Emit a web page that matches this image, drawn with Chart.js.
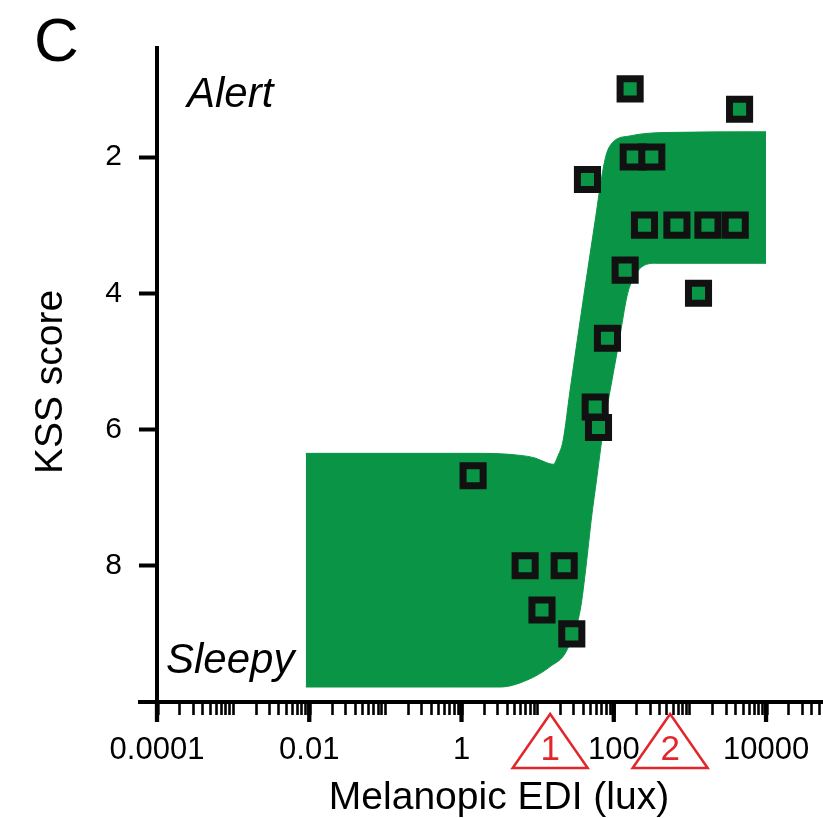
<!DOCTYPE html>
<html>
<head>
<meta charset="utf-8">
<script src="https://cdn.jsdelivr.net/npm/chart.js@4.4.1/dist/chart.umd.min.js"></script>
<style>
  html, body { margin: 0; padding: 0; background: #fff; }
  canvas { display: block; }
</style>
</head>
<body>
<canvas id="kss" width="823" height="818"></canvas>
<script>
const FONT = "'Liberation Sans', Arial, Helvetica, sans-serif";
const GREEN = '#0a9546';
const RED = '#e2262b';

// single measurements: melanopic EDI (lux) and KSS score
const pointLux = [1.42, 6.85, 22.3, 11.4, 28.1, 45.1, 164, 180, 316, 4490, 253, 675, 1725, 3940, 141, 1297, 82.6, 57, 63];
const pointKss = [6.68, 8.0, 8.0, 8.65, 9.0, 2.33, 1.0, 2.0, 2.0, 1.3, 3.0, 3.0, 3.0, 3.0, 3.66, 4.0, 4.66, 5.67, 5.97];

// fitted band: upper edge (alert side)
const bandTopLux = [0.009, 0.156, 1.75, 5.9, 9.3, 12.6, 16.0, 18.6, 21.6, 26.7, 41.5, 57, 68.3, 79.4, 98, 164, 489, 10000];
const bandTopKss = [6.35, 6.35, 6.35, 6.38, 6.42, 6.48, 6.51, 6.38, 6.16, 5.42, 3.95, 2.93, 2.34, 1.97, 1.78, 1.69, 1.64, 1.63];

// fitted band: lower edge (sleepy side)
const bandBottomLux = [0.009, 0.71, 3.21, 7.2, 14.6, 24.2, 36.2, 43.4, 50.5, 60.5, 72.6, 89.7, 118, 150, 180, 229, 350, 10000];
const bandBottomKss = [9.78, 9.78, 9.78, 9.68, 9.48, 9.24, 8.65, 7.99, 7.33, 6.67, 6.01, 5.42, 4.69, 4.03, 3.78, 3.62, 3.56, 3.56];

const xTickValues = [1e-4, 1e-2, 1, 100, 1e4];
const xTickLabels = ['0.0001', '0.01', '1', '100', '10000'];
const yTickValues = [2, 4, 6, 8];

// numbered markers under the x axis
const markerLux = [14.6, 550];
const markerLabels = ['1', '2'];

const toXY = (xs, ys) => xs.map((x, i) => ({ x: x, y: ys[i] }));

const extras = {
    id: 'extras',
    afterDraw(chart) {
        const ctx = chart.ctx;
        const area = chart.chartArea;
        const xs = chart.scales.x;
        ctx.save();
        ctx.strokeStyle = '#000';
        ctx.lineCap = 'butt';

        // long ticks every second decade + axis stub to the left
        ctx.lineWidth = 4.3;
        xTickValues.forEach(v => {
            const px = xs.getPixelForValue(v);
            ctx.beginPath();
            ctx.moveTo(px, area.bottom);
            ctx.lineTo(px, area.bottom + 20);
            ctx.stroke();
        });
        ctx.lineWidth = 4;
        ctx.beginPath();
        ctx.moveTo(area.left - 19, area.bottom);
        ctx.lineTo(area.left, area.bottom);
        ctx.stroke();

        ctx.fillStyle = '#000';
        ctx.textBaseline = 'alphabetic';

        ctx.font = '62px ' + FONT;
        ctx.textAlign = 'left';
        ctx.fillText('C', 34, 61);

        ctx.font = 'italic 42px ' + FONT;
        ctx.fillText('Alert', 187, 107);
        ctx.fillText('Sleepy', 166, 673);

        ctx.font = '39px ' + FONT;
        ctx.textAlign = 'center';
        ctx.fillText('Melanopic EDI (lux)', 499, 809);

        ctx.save();
        ctx.translate(62, 382);
        ctx.rotate(-Math.PI / 2);
        ctx.fillText('KSS score', 0, 0);
        ctx.restore();

        // red triangles
        ctx.strokeStyle = RED;
        ctx.fillStyle = RED;
        ctx.lineWidth = 2.5;
        ctx.lineJoin = 'miter';
        ctx.font = '35px ' + FONT;
        markerLux.forEach((v, i) => {
            const px = xs.getPixelForValue(v);
            ctx.beginPath();
            ctx.moveTo(px, 714);
            ctx.lineTo(px + 37.5, 768);
            ctx.lineTo(px - 37.5, 768);
            ctx.closePath();
            ctx.stroke();
            ctx.fillText(markerLabels[i], px, 760);
        });
        ctx.restore();
    }
};

new Chart(document.getElementById('kss'), {
    type: 'scatter',
    data: {
        datasets: [
            {
                label: 'band upper',
                data: toXY(bandTopLux, bandTopKss),
                showLine: true,
                fill: '+1',
                cubicInterpolationMode: 'monotone',
                borderColor: GREEN,
                backgroundColor: GREEN,
                borderWidth: 1,
                pointRadius: 0,
                order: 2,
            },
            {
                label: 'band lower',
                data: toXY(bandBottomLux, bandBottomKss),
                showLine: true,
                fill: false,
                cubicInterpolationMode: 'monotone',
                borderColor: GREEN,
                backgroundColor: GREEN,
                borderWidth: 1,
                pointRadius: 0,
                order: 2,
            },
            {
                label: 'KSS',
                data: toXY(pointLux, pointKss),
                pointStyle: 'rect',
                pointRadius: 14.2,
                borderWidth: 7,
                borderColor: '#111',
                backgroundColor: GREEN,
                order: 0,
            },
        ],
    },
    options: {
        responsive: false,
        animation: false,
        devicePixelRatio: 1,
        events: [],
        layout: { autoPadding: false, padding: { top: 48, left: 0, right: 0, bottom: 0 } },
        plugins: {
            legend: { display: false },
            tooltip: { enabled: false },
        },
        scales: {
            x: {
                type: 'logarithmic',
                min: 1e-4,
                max: 56000,
                afterBuildTicks(axis) {
                    const ticks = [];
                    for (let e = -4; e <= 4; e++) {
                        for (let m = 1; m <= 9; m++) {
                            const v = parseFloat(m + 'e' + e);
                            if (v <= axis.max) ticks.push({ value: v });
                        }
                    }
                    axis.ticks = ticks;
                },
                afterFit(axis) {
                    axis.height = 116;
                    axis.paddingLeft = 0;
                    axis.paddingRight = 0;
                },
                grid: {
                    drawOnChartArea: false,
                    tickLength: 13,
                    tickColor: '#000',
                    tickWidth: ctx => (ctx.tick && xTickValues.includes(ctx.tick.value) ? 4.3 : 2.6),
                },
                border: { display: true, color: '#000', width: 4 },
                ticks: {
                    autoSkip: false,
                    maxRotation: 0,
                    padding: 17,
                    color: '#000',
                    font: { family: FONT, size: 31 },
                    callback: value => {
                        const i = xTickValues.indexOf(value);
                        return i >= 0 ? xTickLabels[i] : '';
                    },
                },
            },
            y: {
                type: 'linear',
                reverse: true,
                min: 0.4,
                max: 10,
                afterBuildTicks(axis) {
                    axis.ticks = yTickValues.map(v => ({ value: v }));
                },
                afterFit(axis) { axis.width = 157; },
                grid: {
                    drawOnChartArea: false,
                    tickLength: 18,
                    tickColor: '#000',
                    tickWidth: 4,
                },
                border: { display: true, color: '#000', width: 4 },
                ticks: {
                    padding: 17,
                    color: '#000',
                    font: { family: FONT, size: 30 },
                    callback: value => String(value),
                },
            },
        },
    },
    plugins: [extras],
});
</script>
</body>
</html>
